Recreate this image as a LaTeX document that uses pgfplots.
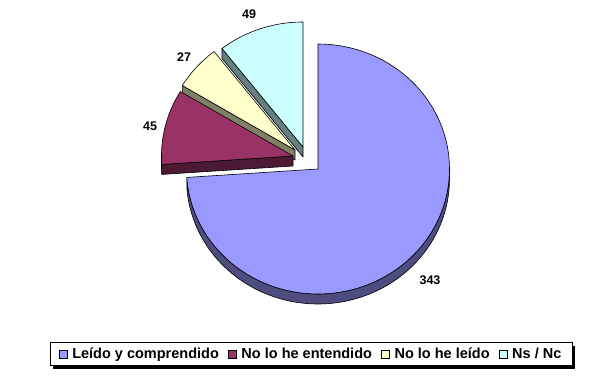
\documentclass[border=0pt]{standalone}
\usepackage{fontspec}
\setmainfont{Liberation Sans}
\usepackage{pgfplots}
\pgfplotsset{compat=1.18}
\definecolor{cA}{RGB}{153,153,255}
\definecolor{cAs}{RGB}{77,77,128}
\definecolor{cB}{RGB}{153,51,102}
\definecolor{cBs}{RGB}{77,26,51}
\definecolor{cC}{RGB}{255,255,204}
\definecolor{cCs}{RGB}{128,128,102}
\definecolor{cD}{RGB}{204,255,255}
\definecolor{cDs}{RGB}{102,128,128}
% data
\def\vA{343}\def\vB{45}\def\vC{27}\def\vD{49}
\pgfmathsetmacro\tot{\vA+\vB+\vC+\vD}
\pgfmathsetmacro\aD{90+360*(\vD/\tot)}
\pgfmathsetmacro\aC{\aD+360*(\vC/\tot)}
\pgfmathsetmacro\aB{\aC+360*(\vB/\tot)}
\def\rx{131.5}\def\ry{125}\def\dep{10}
% top face: color, cx, cy, a, b
\newcommand\topface[5]{%
 \addplot[forget plot, fill=#1, draw=black, line width=0.6pt, line join=round, domain=-0.02:1.02, samples=105, variable=\t]
   ({#2 + ((\t<-0.01 || \t>1.01) ? 0 : \rx*cos(#4+(#5-#4)*min(1,max(0,\t))))},
    {#3 + ((\t<-0.01 || \t>1.01) ? 0 : \ry*sin(#4+(#5-#4)*min(1,max(0,\t))))});
}
% radial wall: color, cx, cy, theta
\newcommand\wall[4]{%
 \addplot[forget plot, fill=#1, draw=black, line width=0.6pt, line join=round, samples at={0,1,2,3,4}, variable=\t]
   ({#2 + ((\t>0.5 && \t<2.5) ? \rx*cos(#4) : 0)},
    {#3 + ((\t>0.5 && \t<2.5) ? \ry*sin(#4) : 0) - ((\t>1.5 && \t<3.5) ? \dep : 0)});
}
% outer rim: color, cx, cy, a, b
\newcommand\rim[5]{%
 \addplot[forget plot, fill=#1, draw=black, line width=0.6pt, line join=round, domain=0:2.01, samples=202, variable=\t]
   ({#2 + \rx*cos(\t<1.0001 ? #4+(#5-#4)*\t : #5-(#5-#4)*min(1,\t-1))},
    {#3 + \ry*sin(\t<1.0001 ? #4+(#5-#4)*\t : #5-(#5-#4)*min(1,\t-1)) - ((\t>1.001 && \t<2.005) ? \dep : 0)});
}
\begin{document}
\begin{tikzpicture}
\path[use as bounding box] (0,0) rectangle (593pt,388pt);
\begin{axis}[at={(0,0)}, anchor=origin, width=593pt, height=388pt, scale only axis,
  xmin=0, xmax=593, ymin=0, ymax=388, hide axis, clip=false,
  legend image code/.code={\draw[#1,draw=black,line width=0.6pt] (0pt,-4pt) rectangle (8pt,4pt);},
  legend style={at={(0.5245,0.0876)}, anchor=center, legend columns=4, draw=none, fill=none,
    font=\bfseries\fontsize{14.5}{16}\selectfont, inner sep=0pt,
    /tikz/every odd column/.append style={column sep=3pt},
    /tikz/every even column/.append style={column sep=7pt},
    nodes={inner xsep=2pt}},
]
% Ns / Nc
\wall{cDs}{303}{241}{\aD}
\topface{cD}{303}{241}{90}{\aD}
% No lo he leido
\wall{cCs}{295}{238}{\aC}
\topface{cC}{295}{238}{\aD}{\aC}
% No lo he entendido
\rim{cBs}{293}{232}{180}{\aB}
\wall{cBs}{293}{232}{\aB}
\topface{cB}{293}{232}{\aC}{\aB}
% Leido y comprendido
\rim{cAs}{318}{219}{\aB}{360}
\topface{cA}{318}{219}{\aB}{450}

\node[font=\bfseries\fontsize{12.5}{14}\selectfont] at (axis cs:430,108) {343};
\node[font=\bfseries\fontsize{12.5}{14}\selectfont] at (axis cs:150,262) {45};
\node[font=\bfseries\fontsize{12.5}{14}\selectfont] at (axis cs:184,331) {27};
\node[font=\bfseries\fontsize{12.5}{14}\selectfont] at (axis cs:249,374) {49};

% legend frame with shadow
\fill[black] (axis cs:53,19.5) rectangle (axis cs:575,42.5);
\draw[black, fill=white, line width=1pt] (axis cs:50,22.5) rectangle (axis cs:572,45.5);

\addlegendimage{fill=cA}\addlegendentry{Leído y comprendido}
\addlegendimage{fill=cB}\addlegendentry{No lo he entendido}
\addlegendimage{fill=cC}\addlegendentry{No lo he leído}
\addlegendimage{fill=cD}\addlegendentry{Ns / Nc}
\end{axis}
\end{tikzpicture}
\end{document}
